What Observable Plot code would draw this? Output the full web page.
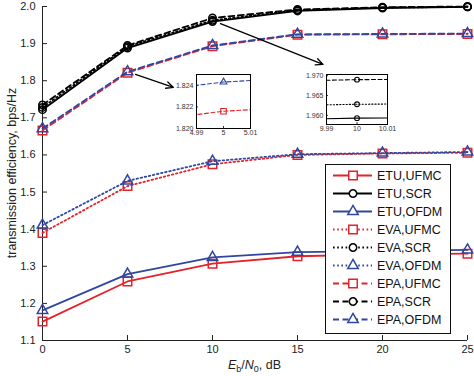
<!DOCTYPE html>
<html><head><meta charset="utf-8">
<script src="https://cdn.jsdelivr.net/npm/d3@7"></script>
<script src="https://cdn.jsdelivr.net/npm/@observablehq/plot@0.6"></script>
<style>
html,body{margin:0;padding:0;background:#fff;}
#chart{position:relative;width:474px;height:376px;font-family:"Liberation Sans",Arial,sans-serif;}
#chart .layer{position:absolute;}
</style></head><body><div id="chart"></div>
<script>
// ---------- data ----------
const snr = [0, 5, 10, 15, 20, 25];
const etuUFMC = [1.151, 1.259, 1.307, 1.327, 1.332, 1.334];
const etuSCR  = [1.722, 1.888, 1.9593, 1.988, 1.996, 1.999];
const etuOFDM = [1.181, 1.279, 1.324, 1.338, 1.341, 1.344];
const evaUFMC = [1.390, 1.516, 1.575, 1.600, 1.604, 1.606];
const evaSCR  = [1.728, 1.892, 1.9628, 1.990, 1.997, 1.999];
const evaOFDM = [1.411, 1.530, 1.583, 1.602, 1.605, 1.608];
const epaUFMC = [1.666, 1.8216, 1.893, 1.924, 1.925, 1.926];
const epaSCR  = [1.735, 1.895, 1.969, 1.992, 1.998, 2.000];
const epaOFDM = [1.671, 1.8243, 1.895, 1.925, 1.926, 1.927];
const seriesNames = ["ETU,UFMC","ETU,SCR","ETU,OFDM","EVA,UFMC","EVA,SCR","EVA,OFDM","EPA,UFMC","EPA,SCR","EPA,OFDM"];
const seriesValues = [etuUFMC, etuSCR, etuOFDM, evaUFMC, evaSCR, evaOFDM, epaUFMC, epaSCR, epaOFDM];
const xTicks = [0, 5, 10, 15, 20, 25];
const yTicks = [1.1, 1.2, 1.3, 1.4, 1.5, 1.6, 1.7, 1.8, 1.9, 2.0];
const xLabelParts = ["E", "b", "/", "N", "0", ", dB"];
const yLabel = "transmission efficiency, bps/Hz";
// zoomed insets
const inset1XDomain = [4.99, 5.01], inset1YDomain = [1.820, 1.825];
const inset1XTicks = [4.99, 5, 5.01], inset1YTicks = [1.820, 1.822, 1.824];
const inset2XDomain = [9.99, 10.01], inset2YDomain = [1.9577, 1.9703];
const inset2XTicks = [9.99, 10, 10.01], inset2YTicks = [1.960, 1.965, 1.970];
// annotation arrows (data units)
const arrowFromX = [5.47, 10.47], arrowFromY = [1.817, 1.954];
const arrowToX = [7.7, 16.5], arrowToY = [1.782, 1.844];

// ---------- styles ----------
const RED = "#e3232a", BLUE = "#3047a0", BLACK = "#000";
const schemeColor = {UFMC: RED, SCR: BLACK, OFDM: BLUE};
const schemeSymbol = {UFMC: "square", SCR: "circle", OFDM: "triangle"};
const schemeR = {UFMC: 4.8, SCR: 3.7, OFDM: 3.9};
const chanDash = {ETU: null, EVA: "1.6,2.6", EPA: "6,3.5"};
const chanDashSmall = {ETU: null, EVA: "1.2,2", EPA: "4,2.5"};

const series = seriesNames.map((name, i) => {
  const [chan, scheme] = name.split(",");
  return {name, chan, scheme, rows: snr.map((x, j) => ({x, y: seriesValues[i][j]}))};
});

const FONT = "'Liberation Sans', Arial, sans-serif";
const chart = document.getElementById("chart");

// ---------- main plot ----------
const mainMarks = [
  Plot.ruleX([0], {stroke: "#222"}),
  Plot.ruleY([1.1], {stroke: "#222"}),
  Plot.axisX({ticks: xTicks, tickSize: -5, tickPadding: 10, tickFormat: d3.format("d"), label: null, stroke: "#222"}),
  Plot.axisY({ticks: yTicks, tickSize: -5, tickPadding: 12, tickFormat: d3.format(".1f"), label: null, stroke: "#222"})
];
for (const s of series) {
  mainMarks.push(Plot.line(s.rows, {x: "x", y: "y", stroke: schemeColor[s.scheme], strokeWidth: 1.8, strokeDasharray: chanDash[s.chan]}));
  mainMarks.push(Plot.dot(s.rows, {x: "x", y: "y", symbol: schemeSymbol[s.scheme], r: schemeR[s.scheme], stroke: schemeColor[s.scheme], strokeWidth: 1.5, fill: "none"}));
}
const arrowRows = arrowFromX.map((d, i) => ({x1: d, y1: arrowFromY[i], x2: arrowToX[i], y2: arrowToY[i]}));
mainMarks.push(Plot.arrow(arrowRows, {x1: "x1", y1: "y1", x2: "x2", y2: "y2", stroke: "#000", strokeWidth: 1.3, headLength: 9, headAngle: 50}));

const main = Plot.plot({
  width: 474, height: 376,
  marginLeft: 42, marginRight: 7, marginTop: 6, marginBottom: 36,
  x: {domain: [0, 25]},
  y: {domain: [1.1, 2.0]},
  style: {fontFamily: FONT, fontSize: "11px", color: "#222", background: "transparent"},
  marks: mainMarks
});
main.classList.add("layer");
main.style.left = "0px"; main.style.top = "0px";
chart.appendChild(main);

// axis titles
const svgMain = d3.select(main);
const xs = main.scale("x"), ys = main.scale("y");
const xt = svgMain.append("text")
  .attr("x", (xs.apply(0) + xs.apply(25)) / 2).attr("y", 369)
  .attr("text-anchor", "middle").attr("font-size", 12.5).attr("font-family", FONT).attr("fill", "#222");
xt.append("tspan").attr("font-style", "italic").text(xLabelParts[0]);
xt.append("tspan").attr("font-size", 9).attr("dy", 3).text(xLabelParts[1]);
xt.append("tspan").attr("dy", -3).text(xLabelParts[2]);
xt.append("tspan").attr("font-style", "italic").text(xLabelParts[3]);
xt.append("tspan").attr("font-size", 9).attr("dy", 3).text(xLabelParts[4]);
xt.append("tspan").attr("dy", -3).text(xLabelParts[5]);
svgMain.append("text")
  .attr("transform", `translate(16,${(ys.apply(1.1) + ys.apply(2.0)) / 2}) rotate(-90)`)
  .attr("text-anchor", "middle").attr("font-size", 12.5).attr("font-family", FONT).attr("fill", "#222")
  .text(yLabel);

// ---------- insets ----------
function inset(xDomain, yDomain, xT, yT, fmtY, fmtX, left, top, w, h) {
  const mL = 30, mR = 8, mT = 4, mB = 14;
  const marks = [Plot.frame({fill: "white"})];
  for (const s of series) {
    marks.push(Plot.line(s.rows, {x: "x", y: "y", stroke: schemeColor[s.scheme], strokeWidth: 1.1, strokeDasharray: chanDashSmall[s.chan], clip: true}));
    marks.push(Plot.dot(s.rows, {x: "x", y: "y", symbol: schemeSymbol[s.scheme], r: schemeR[s.scheme] * 0.65, stroke: schemeColor[s.scheme], strokeWidth: 1.1, fill: "none", clip: true}));
  }
  marks.push(Plot.axisX({ticks: xT, tickSize: -2, tickPadding: 4, tickFormat: fmtX, label: null}));
  marks.push(Plot.axisY({ticks: yT, tickSize: -2, tickPadding: 5, tickFormat: fmtY, label: null}));
  marks.push(Plot.frame({stroke: "#000", strokeWidth: 1}));
  const p = Plot.plot({
    width: mL + w + mR, height: mT + h + mB,
    marginLeft: mL, marginRight: mR, marginTop: mT, marginBottom: mB,
    x: {domain: xDomain}, y: {domain: yDomain},
    style: {fontFamily: FONT, fontSize: "7px", color: "#333", background: "transparent", overflow: "visible"},
    marks
  });
  p.classList.add("layer");
  p.style.left = (left - mL) + "px"; p.style.top = (top - mT) + "px";
  chart.appendChild(p);
}
inset(inset1XDomain, inset1YDomain, inset1XTicks, inset1YTicks, d3.format(".3f"), d => (d === 5 ? "5" : d3.format(".2f")(d)), 196, 74, 54, 54);
inset(inset2XDomain, inset2YDomain, inset2XTicks, inset2YTicks, d3.format(".3f"), d => (d === 10 ? "10" : d3.format(".2f")(d)), 326, 74, 61, 50);

// ---------- legend ----------
const LW = 125, LH = 169, rowH = 18;
const leg = d3.select(chart).append("svg").attr("class", "layer")
  .style("left", "325px").style("top", "164px").attr("width", LW + 1).attr("height", LH + 1);
leg.append("rect").attr("x", 0.5).attr("y", 0.5).attr("width", LW).attr("height", LH).attr("fill", "white").attr("stroke", "#111");
const d3sym = {square: d3.symbolSquare, circle: d3.symbolCircle, triangle: d3.symbolTriangle};
series.forEach((s, i) => {
  const y = 11.5 + i * rowH;
  const g = leg.append("g");
  g.append("line").attr("x1", 8).attr("x2", 47).attr("y1", y).attr("y2", y)
    .attr("stroke", schemeColor[s.scheme]).attr("stroke-width", 1.8)
    .attr("stroke-dasharray", chanDash[s.chan]);
  const r = schemeR[s.scheme];
  g.append("path").attr("transform", `translate(28,${y})`)
    .attr("d", d3.symbol(d3sym[schemeSymbol[s.scheme]], Math.PI * r * r)())
    .attr("fill", "white").attr("stroke", schemeColor[s.scheme]).attr("stroke-width", 1.5);
  g.append("text").attr("x", 52).attr("y", y).attr("dy", "0.36em")
    .attr("font-size", 12.5).attr("font-family", FONT).attr("fill", "#111").text(s.name);
});
</script></body></html>
